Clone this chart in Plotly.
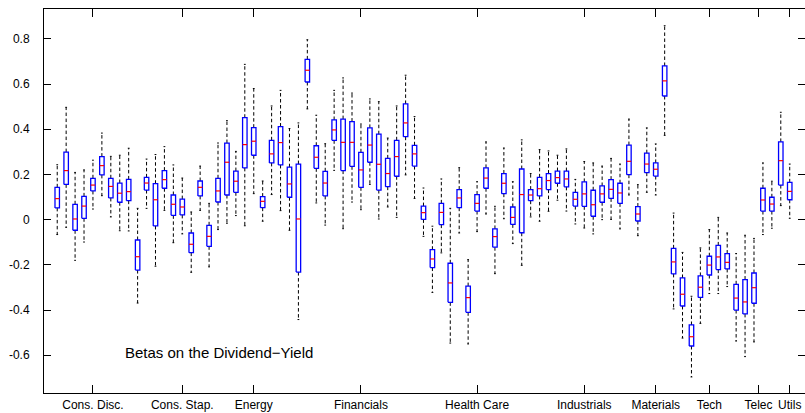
import plotly.graph_objects as go

# Per-portfolio box statistics of the dividend-yield betas (83 portfolios)
whisker_hi = [0.243, 0.497, 0.209, 0.22, 0.263, 0.383, 0.28, 0.285, 0.316, 0.05,
              0.268, 0.288, 0.323, 0.242, 0.184, 0.034, 0.237, 0.072, 0.339, 0.438,
              0.302, 0.687, 0.58, 0.171, 0.503, 0.572, 0.403, 0.428, 0.796, 0.462,
              0.336, 0.572, 0.627, 0.56, 0.423, 0.534, 0.522, 0.361, 0.503, 0.639,
              0.456, 0.14, -0.029, 0.18, 0.05, 0.23, -0.177, 0.168, 0.344, 0.059,
              0.317, 0.168, 0.353, 0.204, 0.31, 0.304, 0.285, 0.313, 0.178, 0.257,
              0.251, 0.237, 0.271, 0.246, 0.445, 0.155, 0.406, 0.335, 0.858, 0.029,
              -0.145, -0.339, -0.125, -0.044, 0.01, -0.059, -0.15, -0.069, -0.083, 0.251,
              0.17, 0.475, 0.246]
q3 = [0.143, 0.299, 0.068, 0.103, 0.183, 0.279, 0.183, 0.162, 0.178, -0.09,
      0.187, 0.159, 0.217, 0.109, 0.091, -0.059, 0.171, -0.025, 0.183, 0.339,
      0.215, 0.451, 0.407, 0.102, 0.351, 0.412, 0.232, 0.246, 0.709, 0.327,
      0.214, 0.441, 0.445, 0.434, 0.298, 0.406, 0.378, 0.271, 0.351, 0.512,
      0.329, 0.06, -0.133, 0.072, -0.193, 0.133, -0.294, 0.111, 0.229, -0.041,
      0.204, 0.056, 0.224, 0.133, 0.187, 0.204, 0.215, 0.215, 0.121, 0.167,
      0.13, 0.149, 0.177, 0.161, 0.33, 0.058, 0.294, 0.251, 0.68, -0.127,
      -0.258, -0.466, -0.249, -0.162, -0.114, -0.15, -0.286, -0.265, -0.236, 0.139,
      0.099, 0.344, 0.165]
median = [0.093, 0.217, 0.003, 0.06, 0.153, 0.239, 0.147, 0.117, 0.124, -0.164,
          0.162, 0.088, 0.177, 0.068, 0.056, -0.109, 0.143, -0.074, 0.127, 0.254,
          0.17, 0.332, 0.347, 0.081, 0.291, 0.341, 0.158, 0.003, 0.661, 0.276,
          0.162, 0.397, 0.342, 0.342, 0.22, 0.33, 0.245, 0.204, 0.279, 0.428,
          0.291, 0.031, -0.174, 0.032, -0.28, 0.096, -0.345, 0.072, 0.184, -0.075,
          0.161, 0.01, 0.111, 0.109, 0.137, 0.173, 0.186, 0.18, 0.09, 0.114,
          0.066, 0.114, 0.134, 0.118, 0.258, 0.025, 0.246, 0.223, 0.614, -0.187,
          -0.33, -0.518, -0.299, -0.201, -0.165, -0.189, -0.347, -0.364, -0.301, 0.087,
          0.069, 0.261, 0.125]
q1 = [0.052, 0.156, -0.047, 0.006, 0.127, 0.198, 0.096, 0.077, 0.084, -0.223,
      0.131, -0.028, 0.139, 0.019, 0.021, -0.146, 0.105, -0.118, 0.078, 0.109,
      0.121, 0.229, 0.285, 0.053, 0.251, 0.242, 0.099, -0.232, 0.609, 0.227,
      0.105, 0.351, 0.217, 0.236, 0.143, 0.254, 0.131, 0.146, 0.192, 0.367,
      0.237, 0.001, -0.212, -0.022, -0.366, 0.053, -0.41, 0.038, 0.139, -0.122,
      0.115, -0.021, -0.058, 0.084, 0.105, 0.133, 0.161, 0.145, 0.06, 0.059,
      0.015, 0.077, 0.094, 0.072, 0.199, -0.006, 0.208, 0.193, 0.547, -0.24,
      -0.382, -0.559, -0.344, -0.245, -0.221, -0.218, -0.4, -0.417, -0.37, 0.038,
      0.038, 0.153, 0.088]
whisker_lo = [-0.066, -0.034, -0.18, -0.099, 0.047, 0.106, 0.012, -0.049, -0.05, -0.369,
              0.05, -0.206, 0.041, -0.102, -0.063, -0.233, 0.041, -0.209, -0.044, -0.016,
              0.018, -0.027, 0.115, -0.007, 0.111, 0.04, -0.047, -0.442, 0.49, 0.074,
              -0.024, 0.218, -0.04, 0.078, 0.044, 0.156, 0.003, 0.056, 0.01, 0.198,
              0.094, -0.074, -0.322, -0.147, -0.546, -0.059, -0.55, -0.053, 0.025, -0.239,
              0.004, -0.106, -0.202, 0.012, -0.007, 0.037, 0.086, 0.038, -0.019, -0.037,
              -0.063, 0.0, 0.001, -0.041, 0.109, -0.071, 0.121, 0.109, 0.373, -0.395,
              -0.524, -0.696, -0.459, -0.327, -0.327, -0.296, -0.537, -0.606, -0.541, -0.066,
              -0.038, 0.062, 0.006]

# Sector labels along the x axis
sector_pos = [5, 15, 23, 35, 48, 60, 68, 74, 79.5, 83]
sector_names = ["Cons. Disc.", "Cons. Stap.", "Energy", "Financials", "Health Care",
                "Industrials", "Materials", "Tech", "Telec", "Utils"]

y_ticks = [-0.6, -0.4, -0.2, 0, 0.2, 0.4, 0.6, 0.8]
y_tick_text = ["-0.6", "-0.4", "-0.2", "0", "0.2", "0.4", "0.6", "0.8"]

positions = list(range(1, len(median) + 1))
BOX_HALF = 0.25
CAP_HALF = 0.1

box_x, box_y = [], []
med_x, med_y = [], []
wh_x, wh_y = [], []
cap_x, cap_y = [], []
for p, lo, a, m, b, hi in zip(positions, whisker_lo, q1, median, q3, whisker_hi):
    box_x += [p - BOX_HALF, p + BOX_HALF, p + BOX_HALF, p - BOX_HALF, p - BOX_HALF, None]
    box_y += [a, a, b, b, a, None]
    med_x += [p - BOX_HALF, p + BOX_HALF, None]
    med_y += [m, m, None]
    wh_x += [p, p, None, p, p, None]
    wh_y += [b, hi, None, a, lo, None]
    cap_x += [p - CAP_HALF, p + CAP_HALF, None, p - CAP_HALF, p + CAP_HALF, None]
    cap_y += [hi, hi, None, lo, lo, None]

fig = go.Figure()
fig.add_trace(go.Scatter(x=wh_x, y=wh_y, mode="lines", hoverinfo="skip",
                         line=dict(color="black", width=1, dash="3.5px,2.5px")))
fig.add_trace(go.Scatter(x=cap_x, y=cap_y, mode="lines", hoverinfo="skip",
                         line=dict(color="black", width=1)))
fig.add_trace(go.Scatter(x=box_x, y=box_y, mode="lines", hoverinfo="skip",
                         line=dict(color="#0000ff", width=1.3)))
fig.add_trace(go.Scatter(x=med_x, y=med_y, mode="lines", hoverinfo="skip",
                         line=dict(color="#ff0000", width=1.2)))

fig.add_annotation(x=8.31, y=-0.588, text="Betas on the Dividend\u2212Yield",
                   xanchor="left", yanchor="middle", showarrow=False,
                   font=dict(size=15, color="black"))

fig.update_layout(
    width=805, height=413, autosize=False,
    margin=dict(l=44, r=0, t=9, b=20),
    plot_bgcolor="white", paper_bgcolor="white",
    showlegend=False,
    font=dict(family="Liberation Sans, Arial, sans-serif", size=12, color="black"),
)
fig.update_xaxes(range=[-0.48, 84.71], tickvals=sector_pos, ticktext=sector_names,
                 ticks="inside", ticklen=8, tickcolor="black", tickwidth=1,
                 showline=True, linecolor="black", linewidth=1, mirror="ticks",
                 showgrid=False, zeroline=False, ticklabelstandoff=1)
fig.update_yaxes(range=[-0.767, 0.932], tickvals=y_ticks, ticktext=y_tick_text,
                 ticks="inside", ticklen=7, tickcolor="black", tickwidth=1,
                 showline=True, linecolor="black", linewidth=1, mirror="ticks",
                 showgrid=False, zeroline=False, ticklabelstandoff=11)

fig.write_html("out.html")
